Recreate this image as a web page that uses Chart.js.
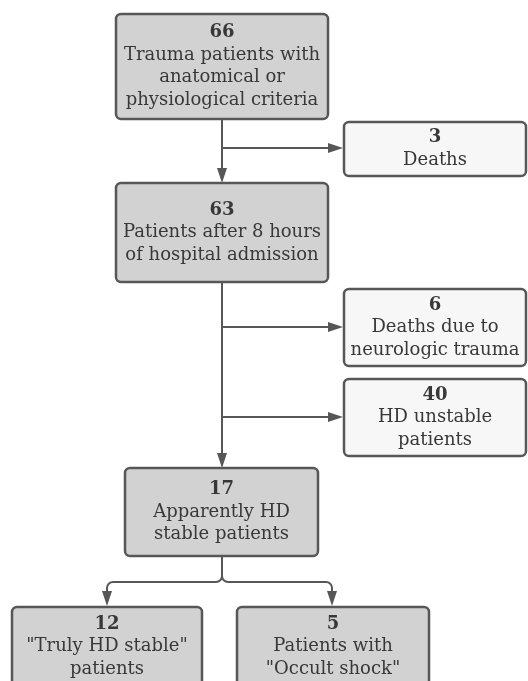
<!DOCTYPE html>
<html>
<head>
<meta charset="utf-8">
<script src="https://cdn.jsdelivr.net/npm/chart.js@4"></script>
<style>
  html, body { margin: 0; padding: 0; background: #fff; }
  #wrap { width: 528px; height: 681px; position: relative; }
</style>
</head>
<body>
<div id="wrap"><canvas id="flow"></canvas></div>
<script>
// patient counts and captions, one per box
const counts = ["66", "3", "63", "6", "40", "17", "12", "5"];
const captions = [
  ["Trauma patients with", "anatomical or", "physiological criteria"],
  ["Deaths"],
  ["Patients after 8 hours", "of hospital admission"],
  ["Deaths due to", "neurologic trauma"],
  ["HD unstable", "patients"],
  ["Apparently HD", "stable patients"],
  ["\"Truly HD stable\"", "patients"],
  ["Patients with", "\"Occult shock\""],
];
// boxes that stay on the main path (grey) vs excluded (light)
const onMainPath = [true, false, true, false, false, true, true, true];

// layout, in chart units (x 0..528, y 0..681 top-down)
const boxLayout = [
  [116, 14, 328, 119],
  [344, 122, 526, 176],
  [116, 183, 328, 282],
  [344, 289, 526, 366],
  [344, 379, 526, 456],
  [125, 468, 318, 556],
  [12, 607, 202, 686],
  [237, 607, 429, 686],
];
const spineX = 222;
const exitRows = [148, 327, 417];
const splitY = 582;
const childX = [107, 332];

const LINE = "#575757";
const TEXT = "#383838";
const FONT = "\"DejaVu Serif\", serif";

function arrowHead(ctx, x, y, dir) {
  const len = 15, half = 5;
  ctx.beginPath();
  if (dir === "down") {
    ctx.moveTo(x, y); ctx.lineTo(x - half, y - len); ctx.lineTo(x + half, y - len);
  } else {
    ctx.moveTo(x, y); ctx.lineTo(x - len, y - half); ctx.lineTo(x - len, y + half);
  }
  ctx.closePath();
  ctx.fill();
}

const flowPlugin = {
  id: "flow",
  afterDatasetsDraw(chart) {
    const { ctx } = chart;
    const sx = chart.scales.x, sy = chart.scales.y;
    const px = (v) => sx.getPixelForValue(v);
    const py = (v) => sy.getPixelForValue(v);
    ctx.save();
    ctx.strokeStyle = LINE;
    ctx.fillStyle = LINE;
    ctx.lineWidth = 2;
    ctx.lineCap = "butt";

    // spine 1 -> 2
    const b = boxLayout;
    ctx.beginPath();
    ctx.moveTo(px(spineX), py(b[0][3]));
    ctx.lineTo(px(spineX), py(b[2][1]) - 12);
    ctx.stroke();
    arrowHead(ctx, px(spineX), py(b[2][1]), "down");

    // spine 2 -> 17
    ctx.beginPath();
    ctx.moveTo(px(spineX), py(b[2][3]));
    ctx.lineTo(px(spineX), py(b[5][1]) - 12);
    ctx.stroke();
    arrowHead(ctx, px(spineX), py(b[5][1]), "down");

    // exclusions
    const exitTargets = [1, 3, 4];
    exitRows.forEach((row, i) => {
      const tx = px(b[exitTargets[i]][0]) - 1;
      ctx.beginPath();
      ctx.moveTo(px(spineX), py(row));
      ctx.lineTo(tx - 12, py(row));
      ctx.stroke();
      arrowHead(ctx, tx, py(row), "right");
    });

    // split under 17
    const r = 6;
    const cx = px(spineX), top = py(b[5][3]), sY = py(splitY);
    ctx.beginPath();
    ctx.moveTo(cx, top);
    ctx.lineTo(cx, sY - r);
    ctx.arcTo(cx, sY, cx - r, sY, r);
    ctx.arcTo(px(childX[0]), sY, px(childX[0]), sY + r, r);
    ctx.lineTo(px(childX[0]), py(b[6][1]) - 12);
    ctx.moveTo(cx, sY - r);
    ctx.arcTo(cx, sY, cx + r, sY, r);
    ctx.arcTo(px(childX[1]), sY, px(childX[1]), sY + r, r);
    ctx.lineTo(px(childX[1]), py(b[7][1]) - 12);
    ctx.stroke();
    arrowHead(ctx, px(childX[0]), py(b[6][1]) - 1, "down");
    arrowHead(ctx, px(childX[1]), py(b[7][1]) - 1, "down");

    // boxes
    boxLayout.forEach((box, i) => {
      const x0 = px(box[0]), y0 = py(box[1]), x1 = px(box[2]), y1 = py(box[3]);
      ctx.beginPath();
      ctx.roundRect(x0, y0, x1 - x0, y1 - y0, 5);
      ctx.fillStyle = onMainPath[i] ? "#d2d2d2" : "#f7f7f7";
      ctx.fill();
      ctx.lineWidth = 2.5;
      ctx.strokeStyle = LINE;
      ctx.stroke();

      const lines = [counts[i], ...captions[i]];
      const lh = 22.5;
      const midX = (x0 + x1) / 2;
      const firstY = (y0 + y1) / 2 - (lines.length - 1) * lh / 2;
      ctx.fillStyle = TEXT;
      ctx.textAlign = "center";
      ctx.textBaseline = "middle";
      lines.forEach((t, k) => {
        ctx.font = (k === 0 ? "bold " : "") + "18px " + FONT;
        ctx.fillText(t, midX, firstY + k * lh);
      });
    });
    ctx.restore();
  },
};

new Chart(document.getElementById("flow"), {
  type: "scatter",
  data: { datasets: [{ data: [], pointRadius: 0 }] },
  options: {
    responsive: true,
    maintainAspectRatio: false,
    animation: false,
    layout: { padding: 0 },
    plugins: { legend: { display: false }, tooltip: { enabled: false } },
    scales: {
      x: { type: "linear", min: 0, max: 528, display: false },
      y: { type: "linear", min: 0, max: 681, reverse: true, display: false },
    },
  },
  plugins: [flowPlugin],
});
</script>
</body>
</html>
